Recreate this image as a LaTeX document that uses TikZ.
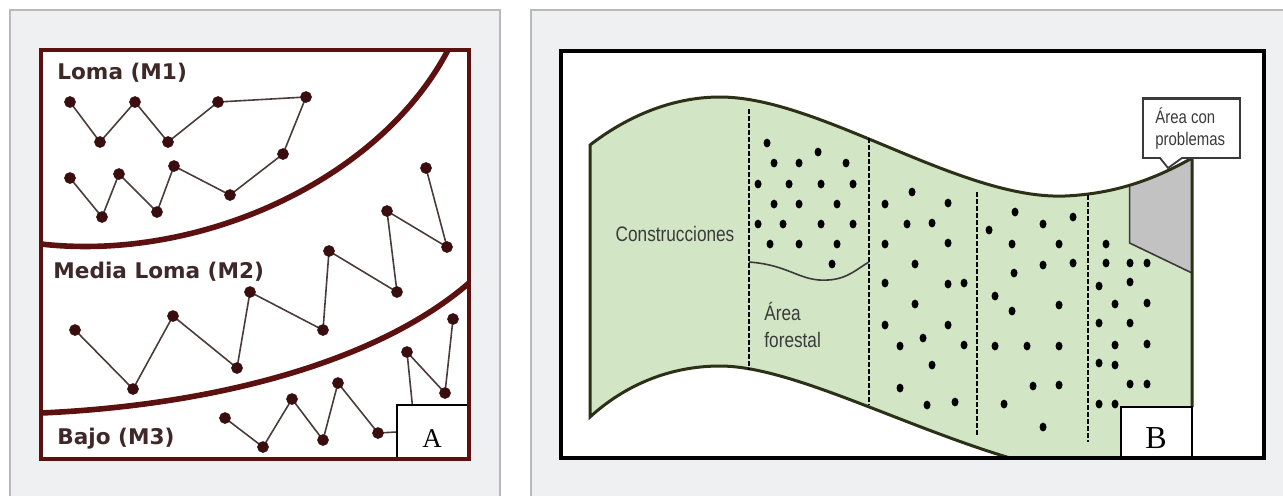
\documentclass[tikz,border=0pt]{standalone}
\usepackage{fontspec}
\setmainfont{Liberation Serif}
\newfontfamily\zonefont{DejaVu Sans}
\newfontfamily\narrowfont[FakeStretch=0.82]{Liberation Sans}
\usetikzlibrary{positioning}
\definecolor{panelbg}{RGB}{239,240,242}
\definecolor{panelline}{RGB}{185,185,187}
\definecolor{bordeaux}{RGB}{92,16,16}
\definecolor{trailgray}{RGB}{75,60,60}
\definecolor{dotred}{RGB}{58,14,14}
\definecolor{labelbrown}{RGB}{62,40,40}
\definecolor{leaf}{RGB}{210,229,197}
\definecolor{olive}{RGB}{43,48,23}
\definecolor{problemgray}{RGB}{194,194,194}
\definecolor{textgray}{RGB}{58,58,58}

\begin{document}
\begin{tikzpicture}[
  x=0.5pt, y=-0.5pt,
  panel/.style={draw=panelline, line width=0.6pt},
  zone/.style={draw=bordeaux, line width=2.8pt},
  trail/.style={draw=trailgray, line width=0.8pt, mark=*, mark size=2.5pt, mark options={fill=dotred, draw=dotred}},
  zonelabel/.style={anchor=west, inner sep=0pt, text=labelbrown, font=\zonefont\bfseries\fontsize{10.8}{13}\selectfont},
  letterbox/.style={draw=black, fill=white, line width=0.8pt},
  letter/.style={anchor=base, inner sep=0pt, font=\fontsize{13.5}{16}\selectfont},
  edge/.style={draw=olive, line width=1.5pt},
  divide/.style={draw=black, line width=0.75pt, dash pattern=on 2.5pt off 1pt},
  tree/.style={fill=black},
  sketchtext/.style={anchor=base west, inner sep=0pt, text=textgray, font=\narrowfont\fontsize{10.5}{13}\selectfont},
]
\useasboundingbox (0,0) rectangle (1283,495);
\fill[white] (0,0) rectangle (1283,495);
\fill[panelbg] (10,10) rectangle (500,496);
\draw[panel] (10,496) -- (10,10) -- (500,10) -- (500,496);
\fill[panelbg] (531,10) rectangle (1284,496);
\draw[panel] (531,496) -- (531,10) -- (1284,10);

\fill[white] (41,50) rectangle (469,459);
\draw[zone] (41,244) .. controls (200,262) and (380,180) .. (448,50);
\draw[zone] (41,413) .. controls (220,405) and (380,360) .. (469,283);
\draw[trail] plot coordinates {(70,178) (102,217) (119,174) (157,212) (174,166) (230,195) (283,154) (306,97) (218,102) (168,142) (135,102) (100,142) (70,102)};
\draw[trail] plot coordinates {(75,330) (133,389) (173,316) (237,368) (250,292) (323,330) (329,251) (397,292) (387,211) (447,247) (426,168)};
\draw[trail] plot coordinates {(225,418) (263,447) (292,399) (323,440) (338,383) (378,433) (415,431) (407,352) (445,393) (453,319)};
\node[zonelabel] (loma) at (57,73) {Loma (M1)};
\node[zonelabel] (media) at (53,272) {Media Loma (M2)};
\node[zonelabel] (bajo) at (57,439) {Bajo (M3)};
\draw[letterbox] (397,405) rectangle (469,459);
\node[letter] (labA) at (432,447) {A};
\draw[bordeaux, line width=1.8pt] (41,50) rectangle (469,459);

\fill[white] (561,51) rectangle (1264,458);
\fill[leaf] (590,145) .. controls (625,118) and (670,97) .. (720,97)
  .. controls (820,97) and (960,200) .. (1065,196)
  .. controls (1110,194) and (1150,182) .. (1192,158) -- (1192,458) -- (1010,458)
  .. controls (900,425) and (790,366) .. (720,366)
  .. controls (670,366) and (625,385) .. (590,417) -- cycle;
\filldraw[fill=problemgray, draw=textgray, line width=0.8pt] (1129.6,185.25) .. controls (1150.5,179) and (1171,170) .. (1192,158) -- (1192,273) -- (1129.6,243) -- cycle;
\draw[edge] (1192,407) -- (1192,158) .. controls (1150,182) and (1110,194) .. (1065,196)
  .. controls (960,200) and (820,97) .. (720,97)
  .. controls (670,97) and (625,118) .. (590,145) -- (590,417)
  .. controls (625,385) and (670,366) .. (720,366)
  .. controls (790,366) and (900,425) .. (1010,458);
\draw[divide] (749,109) -- (749,370);
\draw[divide] (869,138) -- (869,405);
\draw[divide] (977,192) -- (977,435);
\draw[divide] (1088,195) -- (1088,442);
\draw[textgray, line width=0.8pt] (749,262) .. controls (790,265) and (800,282) .. (828,280) .. controls (848,279) and (858,268) .. (869,262);
\foreach \x/\y in {767/143, 774/163, 799/163, 818/152, 846/163, 758/184, 789/184, 821/184, 853/184,
  774/204, 799/204, 837/204, 758/224, 783/224, 821/224, 853/224, 770/244, 799/244, 837/244, 832/264,
  885/204, 885/244, 885/283, 885/325, 900/346, 900/388, 912/192, 907/224, 915/264, 915/304, 923/338,
  932/223, 932/365, 927/405, 948/203, 948/243, 948/284, 964/283, 948/325, 964/345, 955/402,
  1015/212, 989/230, 1043/224, 1073/217, 1012/244, 1059/244, 1014/273, 1043/265, 1073/263, 995/296,
  1012/311, 1059/305, 995/346, 1027/346, 1059/346, 1033/386, 1059/385, 1004/404, 1043/427,
  1106/244, 1106/263, 1130/263, 1147/263, 1099/286, 1130/282, 1115/304, 1147/303, 1099/323,
  1130/323, 1115/345, 1147/344, 1099/363, 1115/365, 1130/384, 1147/384, 1099/404, 1115/404}
  \fill[tree] (\x,\y) ellipse [x radius=3.5, y radius=4.4];
\node[sketchtext, anchor=center] (constr) at (675,234) {Construcciones};
\node[sketchtext] (forestA) at (764,320) {Área};
\node[sketchtext] (forestB) at (764,347) {forestal};
\filldraw[fill=white, draw=textgray, line width=0.9pt] (1143,98) -- (1240,98) -- (1240,158) -- (1182,158) -- (1168,168) -- (1160,158) -- (1143,158) -- cycle;
\draw[textgray, line width=1.5pt] (1143,98) -- (1240,98);
\node[sketchtext, font=\narrowfont\fontsize{9.1}{11}\selectfont] (probA) at (1155,123) {Área con};
\node[sketchtext, font=\narrowfont\fontsize{9.1}{11}\selectfont] (probB) at (1155,145) {problemas};
\draw[letterbox] (1121,407) rectangle (1192,458);
\node[letter, font=\fontsize{16}{19}\selectfont] (labB) at (1156,448) {B};
\draw[black, line width=1.6pt] (561,51) rectangle (1264,458);
\end{tikzpicture}
\end{document}
